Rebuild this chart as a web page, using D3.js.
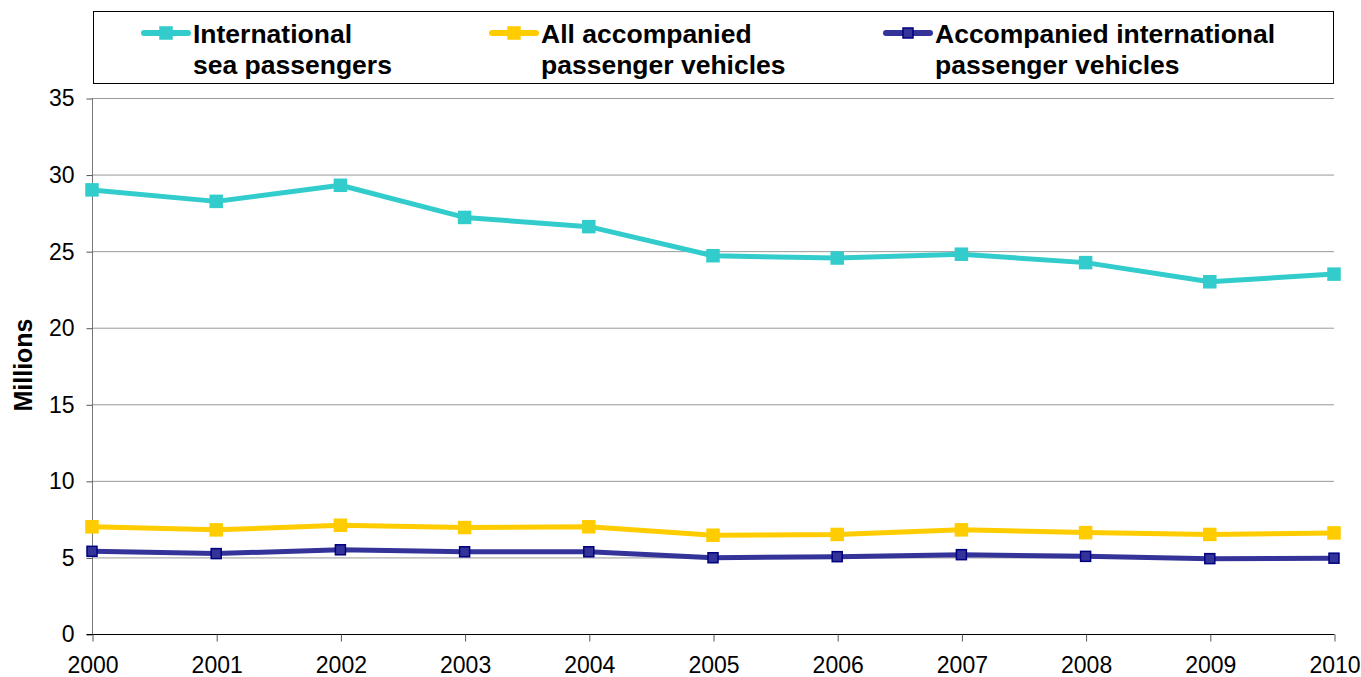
<!DOCTYPE html>
<html>
<head>
<meta charset="utf-8">
<script src="https://cdn.jsdelivr.net/npm/d3@7"></script>
<style>
  body { margin: 0; background: #fff; }
  svg { font-family: "Liberation Sans", Arial, sans-serif; }
</style>
</head>
<body>
<svg width="1361" height="677"></svg>
<script>
var years = [2000, 2001, 2002, 2003, 2004, 2005, 2006, 2007, 2008, 2009, 2010];
var seaPassengers = [29.0, 28.25, 29.3, 27.2, 26.6, 24.7, 24.55, 24.8, 24.25, 23.0, 23.5];
var allVehicles = [7.0, 6.8, 7.1, 6.95, 7.0, 6.45, 6.5, 6.8, 6.62, 6.5, 6.6];
var intlVehicles = [5.4, 5.25, 5.5, 5.37, 5.37, 4.98, 5.05, 5.18, 5.07, 4.92, 4.95];
var yTicks = [0, 5, 10, 15, 20, 25, 30, 35];

var series = [
  { name: ["International", "sea passengers"], values: seaPassengers, color: "#33cccc", stroke: "#33cccc", size: 12 },
  { name: ["All accompanied", "passenger vehicles"], values: allVehicles, color: "#ffcc00", stroke: "#ffcc00", size: 12 },
  { name: ["Accompanied international", "passenger vehicles"], values: intlVehicles, color: "#333399", stroke: "#000080", size: 10 }
];

var svg = d3.select("svg");
var plotLeft = 92, plotRight = 1334, plotTop = 98, plotBottom = 634;

var x = d3.scalePoint().domain(years).range([plotLeft, plotRight]);
var y = d3.scaleLinear().domain([0, 35]).range([plotBottom, plotTop]);

// gridlines
svg.append("g")
  .selectAll("line")
  .data(yTicks.filter(function (d) { return d > 0; }))
  .enter()
  .append("line")
  .attr("x1", plotLeft).attr("x2", plotRight)
  .attr("y1", function (d) { return y(d) + 0.5; })
  .attr("y2", function (d) { return y(d) + 0.5; })
  .attr("stroke", "#999")
  .attr("stroke-width", 1);

// y axis
var yAxis = svg.append("g")
  .attr("transform", "translate(" + (plotLeft + 0.5) + ",0.5)")
  .call(d3.axisLeft(y).tickValues(yTicks).tickSize(6).tickPadding(12));
yAxis.select(".domain").attr("stroke", "#777").attr("d", "M0," + plotTop + "V" + plotBottom);
yAxis.selectAll(".tick line").attr("stroke", "#555");
yAxis.selectAll("text").attr("font-size", 23).attr("fill", "#000")
  .attr("font-family", "Liberation Sans, Arial, sans-serif");

// x axis
var xAxis = svg.append("g")
  .attr("transform", "translate(0.5," + (plotBottom + 0.5) + ")")
  .call(d3.axisBottom(x).tickSize(7).tickPadding(15));
xAxis.select(".domain").attr("stroke", "#000").attr("d", "M" + (plotLeft - 6) + ",0H" + plotRight);
xAxis.selectAll(".tick line").attr("stroke", "#555");
xAxis.selectAll("text").attr("font-size", 23).attr("fill", "#000")
  .attr("font-family", "Liberation Sans, Arial, sans-serif");

svg.append("text")
  .attr("transform", "translate(32," + ((plotTop + plotBottom) / 2 - 1) + ") rotate(-90)")
  .attr("text-anchor", "middle")
  .attr("font-size", 25)
  .attr("font-weight", "bold")
  .text("Millions");

var line = d3.line()
  .x(function (d, i) { return x(years[i]); })
  .y(function (d) { return y(d); });

series.forEach(function (s) {
  svg.append("path")
    .datum(s.values)
    .attr("d", line)
    .attr("fill", "none")
    .attr("stroke", s.color)
    .attr("stroke-width", 5)
    .attr("stroke-linejoin", "round");

  svg.append("g")
    .selectAll("rect")
    .data(s.values)
    .enter()
    .append("rect")
    .attr("x", function (d, i) { return x(years[i]) - s.size / 2; })
    .attr("y", function (d) { return y(d) - s.size / 2; })
    .attr("width", s.size)
    .attr("height", s.size)
    .attr("fill", s.color)
    .attr("stroke", s.stroke)
    .attr("stroke-width", 1.5);
});

// legend
svg.append("rect")
  .attr("x", 93.5).attr("y", 11.5)
  .attr("width", 1240).attr("height", 72)
  .attr("fill", "#fff")
  .attr("stroke", "#000");

var legendX = [144, 492, 886];
series.forEach(function (s, i) {
  var lg = svg.append("g").attr("transform", "translate(" + legendX[i] + ",33)");
  lg.append("line")
    .attr("x1", 0).attr("x2", 44)
    .attr("stroke", s.color).attr("stroke-width", 6)
    .attr("stroke-linecap", "round");
  lg.append("rect")
    .attr("x", 22 - s.size / 2).attr("y", -s.size / 2)
    .attr("width", s.size).attr("height", s.size)
    .attr("fill", s.color).attr("stroke", s.stroke).attr("stroke-width", 1.5);
  lg.append("text")
    .attr("x", 49).attr("y", 10)
    .attr("font-size", 26.5).attr("font-weight", "bold")
    .text(s.name[0]);
  lg.append("text")
    .attr("x", 49).attr("y", 41)
    .attr("font-size", 26.5).attr("font-weight", "bold")
    .text(s.name[1]);
});
</script>
</body>
</html>
